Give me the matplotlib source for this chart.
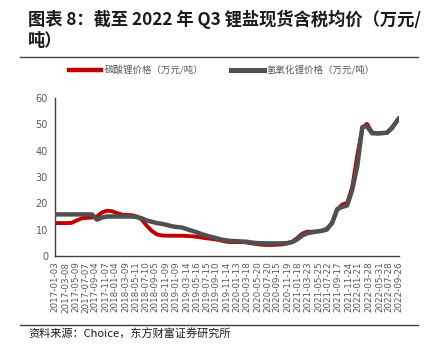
import matplotlib
matplotlib.use("Agg")
import matplotlib.pyplot as plt
import matplotlib.lines as mlines
import pandas as pd

plt.rcParams['font.family'] = ['Noto Sans CJK SC', 'DejaVu Sans']

# ---- data ----
months = ['2017-01-03', '2017-02-15', '2017-03-15', '2017-04-15', '2017-05-15', '2017-06-15',
          '2017-07-15', '2017-08-15', '2017-09-15', '2017-10-15', '2017-11-15', '2017-12-15',
          '2018-01-15', '2018-02-15', '2018-03-15', '2018-04-15', '2018-05-15', '2018-06-15',
          '2018-07-15', '2018-08-15', '2018-09-15', '2018-10-15', '2018-11-15', '2018-12-15',
          '2019-01-15', '2019-02-15', '2019-03-15', '2019-04-15', '2019-05-15', '2019-06-15',
          '2019-07-15', '2019-08-15', '2019-09-15', '2019-10-15', '2019-11-15', '2019-12-15',
          '2020-01-15', '2020-02-15', '2020-03-15', '2020-04-15', '2020-05-15', '2020-06-15',
          '2020-07-15', '2020-08-15', '2020-09-15', '2020-10-15', '2020-11-15', '2020-12-15',
          '2021-01-15', '2021-02-15', '2021-03-15', '2021-04-15', '2021-05-15', '2021-06-15',
          '2021-07-15', '2021-08-15', '2021-09-15', '2021-10-15', '2021-11-15', '2021-12-15',
          '2022-01-15', '2022-02-15', '2022-03-15', '2022-04-15', '2022-05-15', '2022-06-15',
          '2022-07-15', '2022-08-15', '2022-09-26']

carbonate = [12.5, 12.5, 12.5, 12.6, 13.5, 14.3, 14.5, 14.6, 15.0, 16.5, 17.2, 17.0,
             16.3, 15.7, 15.6, 15.5, 15.0, 13.8, 11.5, 9.5, 8.2, 7.8, 7.7, 7.7,
             7.7, 7.7, 7.6, 7.5, 7.3, 7.0, 6.7, 6.5, 6.2, 5.8, 5.4, 5.3,
             5.3, 5.3, 5.1, 4.8, 4.5, 4.3, 4.2, 4.2, 4.3, 4.4, 4.8, 5.4,
             6.8, 8.5, 9.2, 9.2, 9.3, 9.5, 10.0, 12.5, 17.5, 19.5, 20.2, 26.0,
             38.0, 48.5, 50.2, 47.0, 46.5, 46.6, 46.8, 48.5, 52.5]

hydroxide = [15.8, 15.8, 15.8, 15.8, 15.8, 15.8, 15.8, 15.8, 13.8, 14.6, 15.0, 15.0,
             15.0, 15.0, 15.0, 15.0, 14.8, 14.3, 13.5, 13.0, 12.5, 12.2, 11.8, 11.3,
             11.0, 10.8, 10.2, 9.6, 9.0, 8.3, 7.7, 7.2, 6.7, 6.2, 5.9, 5.7,
             5.6, 5.5, 5.4, 5.1, 4.9, 4.8, 4.8, 4.8, 4.8, 4.8, 4.9, 5.3,
             6.3, 7.8, 8.6, 9.0, 9.3, 9.6, 10.3, 12.5, 17.8, 18.6, 19.2, 25.0,
             34.0, 49.0, 49.3, 46.6, 46.6, 46.7, 46.8, 48.8, 52.3]

tick_labels = ['2017-01-03', '2017-03-08', '2017-05-09', '2017-07-07', '2017-09-04',
               '2017-11-07', '2018-01-04', '2018-03-09', '2018-05-11', '2018-07-10',
               '2018-09-05', '2018-11-09', '2019-01-09', '2019-03-14', '2019-05-16',
               '2019-07-15', '2019-09-10', '2019-11-14', '2020-01-13', '2020-03-18',
               '2020-05-20', '2020-07-20', '2020-09-15', '2020-11-19', '2021-01-18',
               '2021-03-23', '2021-05-25', '2021-07-22', '2021-09-17', '2021-11-24',
               '2022-01-21', '2022-03-28', '2022-05-31', '2022-07-28', '2022-09-26']

name_carbonate = '碳酸锂价格（万元/吨）'
name_hydroxide = '氢氧化锂价格（万元/吨）'
title_line1 = '图表 8：截至 2022 年 Q3 锂盐现货含税均价（万元/'
title_line2 = '吨）'
source = '资料来源：Choice，东方财富证券研究所'

# ---- figure ----
W, H = 432, 348
fig = plt.figure(figsize=(W / 100, H / 100), dpi=100)
ax = fig.add_axes([55 / W, 1 - 256 / H, 344 / W, 158 / H])

x = pd.to_datetime(months)
xt = pd.to_datetime(tick_labels)

l1, = ax.plot(x, carbonate, color='#C00000', lw=2.8, solid_capstyle='round',
              solid_joinstyle='round', label=name_carbonate, zorder=2)
l2, = ax.plot(x, hydroxide, color='#505050', lw=3.2, solid_capstyle='round',
              solid_joinstyle='round', label=name_hydroxide, zorder=3)

ax.set_xlim(xt[0], xt[-1])
ax.set_ylim(0, 60)
ax.set_yticks(range(0, 61, 10))
ax.set_xticks(xt)
ax.set_xticklabels(tick_labels, rotation=90, fontsize=6.3, color='#595959',
                   family=['DejaVu Sans'])
for lab in ax.get_yticklabels():
    lab.set_fontsize(7)
    lab.set_color('#595959')
    lab.set_family(['DejaVu Sans'])
ax.tick_params(axis='both', length=0)
ax.tick_params(axis='y', pad=5)
ax.tick_params(axis='x', pad=4)

for s in ['top', 'right']:
    ax.spines[s].set_visible(False)
for s in ['left', 'bottom']:
    ax.spines[s].set_color('#404040')
    ax.spines[s].set_linewidth(1.0)

# legend
h1 = mlines.Line2D([], [], color='#C00000', lw=3.2)
h2 = mlines.Line2D([], [], color='#505050', lw=3.6)
leg = fig.legend([h1, h2], [name_carbonate, name_hydroxide], loc='center',
                 bbox_to_anchor=(222 / W, 1 - 70 / H), ncol=2, frameon=False,
                 fontsize=6.8, handlelength=3.4, handletextpad=0.35,
                 columnspacing=3.0, labelcolor='#595959')

# title
fig.text(28 / W, 1 - 19 / H, title_line1, fontsize=12.4, fontweight='bold',
         va='center', ha='left', color='#1a1a1a')
fig.text(28 / W, 1 - 41 / H, title_line2, fontsize=12.4, fontweight='bold',
         va='center', ha='left', color='#1a1a1a')

# separator lines
fig.add_artist(mlines.Line2D([20 / W, 418 / W], [1 - 57 / H, 1 - 57 / H],
                             color='#404040', lw=1.0))
fig.add_artist(mlines.Line2D([20 / W, 418 / W], [1 - 325 / H, 1 - 325 / H],
                             color='#404040', lw=1.0))

fig.text(28 / W, 1 - 334 / H, source, fontsize=8, va='center', ha='left',
         color='#1a1a1a')

fig.savefig('out.png', dpi=100)
